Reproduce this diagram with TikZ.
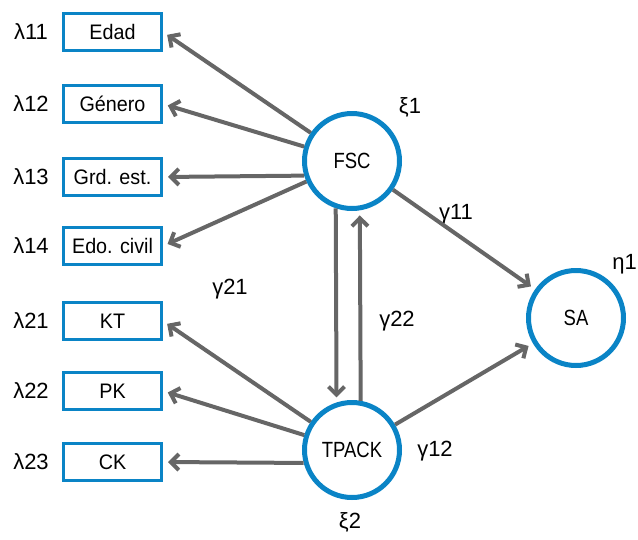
\documentclass[tikz,border=0pt]{standalone}
\usepackage{fontspec}
\setmainfont{Liberation Sans}
\newfontfamily\boxfont{Liberation Sans}[FakeStretch=0.94]
\newfontfamily\latentfont{Liberation Sans}[FakeStretch=0.84]
\usetikzlibrary{arrows.meta}
\definecolor{semblue}{HTML}{0A84C6}
\definecolor{semgrey}{HTML}{666666}
\tikzset{
  obsbox/.style={draw=semblue, line width=3pt, minimum width=98pt, minimum height=37pt, inner sep=0pt, font=\boxfont\fontsize{21}{24}\selectfont},
  latent/.style={circle, draw=semblue, line width=5pt, minimum size=95pt, inner sep=0pt, font=\latentfont\fontsize{22}{26}\selectfont},
  lbl/.style={font=\fontsize{22}{26}\selectfont, inner sep=0pt},
  path/.style={draw=semgrey, line width=4pt, -{Straight Barb[length=8pt,width=16pt]}, shorten >=5pt}
}
\begin{document}
\begin{tikzpicture}[x=1pt,y=-1pt]
\useasboundingbox (0,0) rectangle (638,539);
% observed indicators
\node[obsbox] (edad) at (112.5,32) {Edad};
\node[obsbox] (gen)  at (112.5,104) {Género};
\node[obsbox] (grd)  at (112.5,177) {Grd. est.};
\node[obsbox] (edo)  at (112.5,246) {Edo. civil};
\node[obsbox] (kt)   at (112.5,321) {KT};
\node[obsbox] (pk)   at (112.5,391) {PK};
\node[obsbox] (ck)   at (112.5,462) {CK};
% loadings
\node[lbl] (l11) at (31,32) {λ11};
\node[lbl] (l12) at (31,104) {λ12};
\node[lbl] (l13) at (31,177) {λ13};
\node[lbl] (l14) at (31,246) {λ14};
\node[lbl] (l21) at (31,321) {λ21};
\node[lbl] (l22) at (31,391) {λ22};
\node[lbl] (l23) at (31,462) {λ23};
% latent variables
\node[latent] (fsc)   at (352,161) {FSC};
\node[latent] (tpack) at (352,450) {TPACK};
\node[latent] (sa)    at (576,318) {SA};
% latent labels and path coefficients
\node[lbl] (xi1)  at (410,107) {ξ1};
\node[lbl] (xi2)  at (350,522) {ξ2};
\node[lbl, anchor=east] (eta1) at (637,264) {η1};
\node[lbl] (g11)  at (456,214) {γ11};
\node[lbl] (g12)  at (435,451) {γ12};
\node[lbl] (g21)  at (230,289) {γ21};
\node[lbl] (g22)  at (397,321) {γ22};
% measurement paths
\draw[path] (fsc) -- (edad.east);
\draw[path] (fsc) -- (gen.east);
\draw[path] (fsc.197) -- (grd.east);
\draw[path] (fsc) -- (edo.east);
\draw[path] (tpack) -- (kt.east);
\draw[path] (tpack) -- (pk.east);
\draw[path] (tpack.195) -- (ck.east);
% structural paths
\draw[path] (fsc.251.3) -- (tpack.108.7);
\draw[path] (tpack.80.8) -- (fsc.279.2);
\draw[path] (fsc) -- (sa);
\draw[path] (tpack) -- (sa);
\end{tikzpicture}
\end{document}
